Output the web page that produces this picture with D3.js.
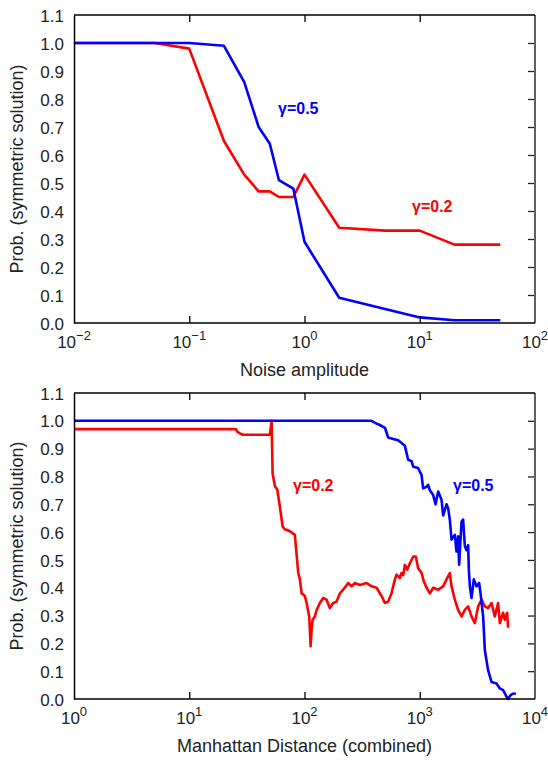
<!DOCTYPE html>
<html><head><meta charset="utf-8">
<script src="https://cdn.jsdelivr.net/npm/d3@7"></script>
<style>body{margin:0;background:#fff}svg{display:block}text{font-family:"Liberation Sans",Arial,sans-serif}</style>
</head><body>
<svg id="c" width="548" height="761"></svg>
<script>
// ---- Top panel: probability vs noise amplitude ----
const noiseAmp = [0.01, 0.05, 0.1, 0.2, 0.3, 0.4, 0.5, 0.6, 0.8, 1, 2, 5, 10, 20, 50];
const probG05Noise = [1.0, 1.0, 1.0, 0.99, 0.86, 0.70, 0.64, 0.51, 0.48, 0.29, 0.09, 0.05, 0.02, 0.01, 0.01];
const probG02Noise = [1.0, 1.0, 0.98, 0.65, 0.53, 0.47, 0.47, 0.45, 0.45, 0.53, 0.34, 0.33, 0.33, 0.28, 0.28];

// ---- Bottom panel: probability vs Manhattan distance ----
const distG05 = [1, 382, 422, 451, 499, 532, 588, 650, 743, 793, 849, 877, 968, 1037, 1070, 1146, 1183, 1224, 1307, 1371, 1445, 1545, 1596, 1708, 1763, 1823, 1888, 2015, 2084, 2153, 2197, 2305, 2379, 2461, 2545, 2630, 2667, 2721, 2812, 2945, 3112, 3275, 3367, 3548, 3672, 3920, 4198, 4634, 4955, 5289, 5662, 5846, 6134, 6457, 6823];
const probG05Dist = [1.0, 1.0, 0.99, 0.985, 0.975, 0.94, 0.935, 0.93, 0.91, 0.86, 0.855, 0.835, 0.83, 0.805, 0.757, 0.763, 0.77, 0.75, 0.733, 0.70, 0.746, 0.716, 0.66, 0.70, 0.686, 0.645, 0.573, 0.59, 0.53, 0.585, 0.483, 0.637, 0.645, 0.55, 0.535, 0.553, 0.465, 0.405, 0.363, 0.43, 0.405, 0.417, 0.38, 0.297, 0.175, 0.103, 0.061, 0.056, 0.038, 0.032, 0.008, 0.0, 0.014, 0.019, 0.02];

const distG02 = [1, 25.4, 26.2, 27.5, 29.2, 50.1, 51.8, 52.9, 55.4, 58.0, 61.2, 64.6, 67.6, 74.7, 82.5, 88.2, 91.2, 94.4, 100.8, 104.3, 109.9, 113, 115.3, 117.6, 123, 127.4, 136, 145.3, 155.5, 166, 177.5, 189.8, 202.8, 216.7, 239.4, 256, 273.5, 302.5, 345.6, 382, 422, 466.6, 498, 532, 569, 608, 629, 672, 695, 718, 743, 778, 821, 877, 925, 968, 1037, 1086, 1146, 1224, 1307, 1445, 1596, 1708, 1823, 1888, 2015, 2153, 2305, 2461, 2630, 2812, 3006, 3214, 3436, 3672, 3920, 4198, 4477, 4786, 4955, 5289, 5470, 5728, 5846];
const probG02Dist = [0.97, 0.97, 0.96, 0.955, 0.95, 0.95, 1.0, 0.81, 0.765, 0.753, 0.69, 0.62, 0.61, 0.603, 0.59, 0.453, 0.43, 0.38, 0.37, 0.345, 0.297, 0.19, 0.25, 0.285, 0.297, 0.32, 0.345, 0.363, 0.357, 0.327, 0.345, 0.35, 0.38, 0.393, 0.417, 0.405, 0.417, 0.41, 0.417, 0.405, 0.40, 0.37, 0.345, 0.35, 0.38, 0.43, 0.447, 0.435, 0.453, 0.445, 0.482, 0.465, 0.488, 0.512, 0.512, 0.47, 0.453, 0.422, 0.40, 0.38, 0.40, 0.393, 0.405, 0.43, 0.453, 0.405, 0.357, 0.32, 0.297, 0.32, 0.333, 0.297, 0.273, 0.333, 0.357, 0.333, 0.327, 0.345, 0.297, 0.345, 0.273, 0.31, 0.285, 0.31, 0.256];

const yTicks = [0.0, 0.1, 0.2, 0.3, 0.4, 0.5, 0.6, 0.7, 0.8, 0.9, 1.0, 1.1];
const topXTickExps = [-2, -1, 0, 1, 2];
const botXTickExps = [0, 1, 2, 3, 4];
const yTitle = "Prob. (symmetric solution)";
const topXTitle = "Noise amplitude";
const botXTitle = "Manhattan Distance (combined)";
const blue = "#0000ff", red = "#ff0000";

const svg = d3.select("#c");

function panel(cfg) {
  const {top, bottom, left, right, xDomain, exps, xTitle, series, labels} = cfg;
  const x = d3.scaleLog().domain(xDomain).range([left, right]);
  const y = d3.scaleLinear().domain([0, 1.1]).range([bottom, top]);
  const g = svg.append("g");

  // lines
  const line = d3.line().x(d => x(d[0])).y(d => y(d[1]));
  series.forEach(s => {
    g.append("path")
      .datum(s.xs.map((v, i) => [v, s.ys[i]]))
      .attr("d", line)
      .attr("fill", "none")
      .attr("stroke", s.color)
      .attr("stroke-width", 2.6)
      .attr("stroke-linejoin", "round");
  });

  // left y axis (no ticks, labels only)
  const yAxis = d3.axisLeft(y).tickValues(yTicks).tickFormat(d3.format(".1f")).tickSize(0).tickPadding(10);
  const ya = g.append("g").attr("transform", `translate(${left},0)`).call(yAxis);
  ya.select(".domain").attr("stroke", "#000").attr("stroke-width", 1.5);
  ya.selectAll("text").attr("font-size", 17).attr("fill", "#222").attr("dy", "0.36em");

  // right axis: inward ticks
  const rAxis = d3.axisLeft(y).tickValues(yTicks.slice(1, -1)).tickSize(7).tickFormat("");
  const ra = g.append("g").attr("transform", `translate(${right},0)`).call(rAxis);
  ra.select(".domain").remove();
  ra.selectAll("line").attr("stroke", "#222").attr("stroke-width", 1.3);
  g.append("line").attr("x1", right).attr("x2", right).attr("y1", top).attr("y2", bottom)
    .attr("stroke", "#606060").attr("stroke-width", 2);

  // bottom x axis with inward ticks
  const tv = exps.map(e => Math.pow(10, e));
  const bAxis = d3.axisTop(x).tickValues(tv.slice(1, -1)).tickSize(7).tickFormat("");
  const ba = g.append("g").attr("transform", `translate(0,${bottom})`).call(bAxis);
  ba.select(".domain").remove();
  ba.selectAll("line").attr("stroke", "#000").attr("stroke-width", 1.3);
  g.append("line").attr("x1", left).attr("x2", right).attr("y1", bottom).attr("y2", bottom)
    .attr("stroke", "#000").attr("stroke-width", 1.5);

  // top axis with inward ticks
  const tAxis = d3.axisBottom(x).tickValues(tv.slice(1, -1)).tickSize(7).tickFormat("");
  const ta = g.append("g").attr("transform", `translate(0,${top})`).call(tAxis);
  ta.select(".domain").remove();
  ta.selectAll("line").attr("stroke", "#000").attr("stroke-width", 1.3);
  g.append("line").attr("x1", left).attr("x2", right).attr("y1", top).attr("y2", top)
    .attr("stroke", "#000").attr("stroke-width", 1.5);

  // x tick labels 10^n
  exps.forEach(e => {
    const t = g.append("text").attr("x", x(Math.pow(10, e))).attr("y", bottom + 25)
      .attr("text-anchor", "middle").attr("font-size", 17).attr("fill", "#222");
    t.append("tspan").text("10");
    t.append("tspan").attr("dy", -8).attr("font-size", 13).text(e < 0 ? "\u2212" + (-e) : String(e));
  });

  // axis titles
  g.append("text").attr("x", (left + right) / 2).attr("y", bottom + 53)
    .attr("text-anchor", "middle").attr("font-size", 18).attr("fill", "#222").text(xTitle);
  g.append("text").attr("transform", `translate(23,${(top + bottom) / 2}) rotate(-90)`)
    .attr("text-anchor", "middle").attr("font-size", 18).attr("fill", "#222").text(yTitle);

  // series labels
  labels.forEach(l => {
    g.append("text").attr("x", l.x).attr("y", l.y).attr("font-size", 16).attr("font-weight", "bold")
      .attr("fill", l.color).text(l.text);
  });
}

panel({
  top: 15, bottom: 323, left: 74, right: 535, xDomain: [0.01, 100], exps: topXTickExps, xTitle: topXTitle,
  series: [
    {xs: noiseAmp, ys: probG02Noise, color: red},
    {xs: noiseAmp, ys: probG05Noise, color: blue}
  ],
  labels: [
    {text: "\u03b3=0.5", x: 278, y: 114, color: blue},
    {text: "\u03b3=0.2", x: 412, y: 212, color: red}
  ]
});

panel({
  top: 393, bottom: 699, left: 74, right: 535, xDomain: [1, 10000], exps: botXTickExps, xTitle: botXTitle,
  series: [
    {xs: distG02, ys: probG02Dist, color: red},
    {xs: distG05, ys: probG05Dist, color: blue}
  ],
  labels: [
    {text: "\u03b3=0.2", x: 293, y: 491, color: red},
    {text: "\u03b3=0.5", x: 453, y: 491, color: blue}
  ]
});
</script>
</body></html>
